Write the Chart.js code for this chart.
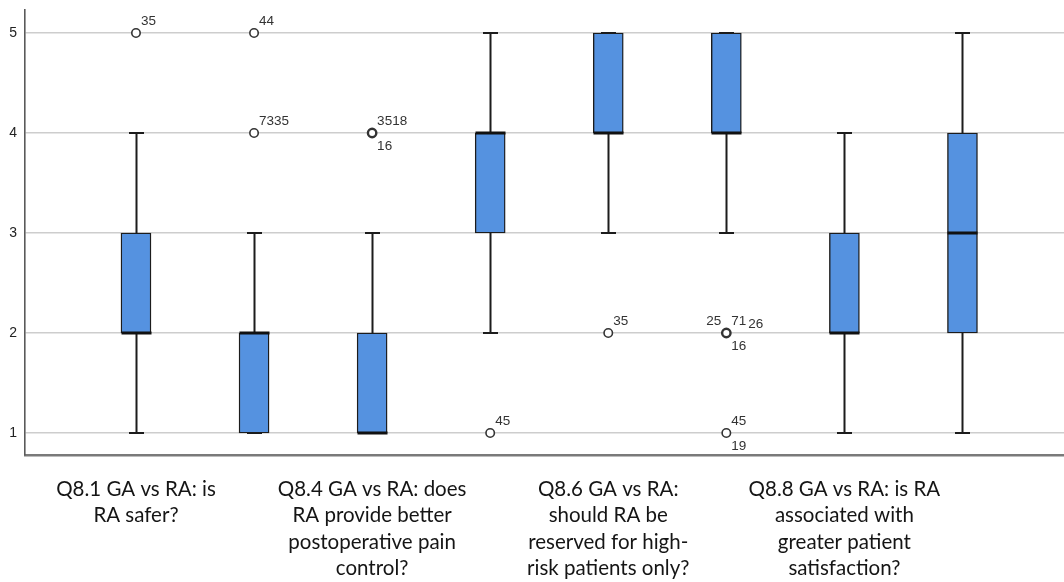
<!DOCTYPE html>
<html>
<head>
<meta charset="utf-8">
<script src="https://cdn.jsdelivr.net/npm/chart.js@4.4.1/dist/chart.umd.min.js"></script>
<style>
  html, body { margin: 0; padding: 0; background: #fff; }
  #wrap { width: 1064px; height: 582px; }
</style>
</head>
<body>
<div id="wrap"><canvas id="chart" width="1064" height="582"></canvas></div>
<script>
// Likert responses (1-5) per survey item, summarised as box plots.
const items = ["Q8.1", "Q8.2", "Q8.4", "Q8.5", "Q8.6", "Q8.7", "Q8.8", "Q8.9"];

// Category axis text (only every other item carries a label).
const tickLabels = [
  ["Q8.1 GA vs RA: is", "RA safer?"],
  [],
  ["Q8.4 GA vs RA: does", "RA provide better", "postoperative pain", "control?"],
  [],
  ["Q8.6 GA vs RA:", "should RA be", "reserved for high-", "risk patients only?"],
  [],
  ["Q8.8 GA vs RA: is RA", "associated with", "greater patient", "satisfaction?"],
  []
];

// Five-number summaries
const whiskerLow  = [1, 1, 1, 2, 3, 3, 1, 1];
const quartile1   = [2, 1, 1, 3, 4, 4, 2, 2];
const medians     = [2, 2, 1, 4, 4, 4, 2, 3];
const quartile3   = [3, 2, 2, 4, 5, 5, 3, 4];
const whiskerHigh = [4, 3, 3, 5, 5, 5, 4, 5];

// Outlying responses: item position, value and case numbers
const outlierItem   = [1, 2, 2, 3, 4, 5, 6, 6];
const outlierValue  = [5, 5, 4, 4, 1, 2, 2, 1];
const outlierCases  = [["35"], ["44"], ["73", "35"], ["35", "18", "16"], ["45"], ["35"], ["25", "71", "26", "16"], ["45", "19"]];

const yTicks = [1, 2, 3, 4, 5];

// Where each case number sits around its circle
const SLOT = {
  ur:    { dx: 5,   dy: -8 },
  next:  { dx: null, dy: -8 },   // continues right after previous label
  below: { dx: 5,   dy: 17 },
  ul:    { dx: -5,  dy: -8, align: 'right' },
  right: { dx: 22,  dy: -5 }
};
const caseSlots = [
  ['ur'], ['ur'], ['ur', 'next'], ['ur', 'next', 'below'], ['ur'], ['ur'],
  ['ul', 'ur', 'right', 'below'], ['ur', 'below']
];

const INK = '#1c1c1c';
const BOX_FILL = '#5592e0';
const CAP_HALF = 7.5;
const BOX_HALF = 15;

const boxParts = {
  id: 'boxParts',
  beforeDatasetsDraw(chart) {
    const { ctx, scales: { x, y } } = chart;
    ctx.save();
    ctx.strokeStyle = INK;
    ctx.lineWidth = 2;
    ctx.lineCap = 'butt';
    items.forEach((_, i) => {
      const px = Math.round(x.getPixelForValue(i + 1)) + 0.5;
      const lo = y.getPixelForValue(whiskerLow[i]);
      const hi = y.getPixelForValue(whiskerHigh[i]);
      ctx.beginPath();
      ctx.moveTo(px, lo); ctx.lineTo(px, hi);
      ctx.moveTo(px - CAP_HALF, lo); ctx.lineTo(px + CAP_HALF, lo);
      ctx.moveTo(px - CAP_HALF, hi); ctx.lineTo(px + CAP_HALF, hi);
      ctx.stroke();
    });
    ctx.restore();
  },
  afterDatasetsDraw(chart) {
    const { ctx, scales: { x, y } } = chart;
    ctx.save();
    // medians
    ctx.strokeStyle = '#111';
    ctx.lineWidth = 3;
    items.forEach((_, i) => {
      const px = Math.round(x.getPixelForValue(i + 1)) + 0.5;
      const py = y.getPixelForValue(medians[i]);
      ctx.beginPath();
      ctx.moveTo(px - BOX_HALF, py); ctx.lineTo(px + BOX_HALF, py);
      ctx.stroke();
    });
    // case numbers next to outliers
    ctx.font = '13.5px "Liberation Sans", Arial, sans-serif';
    ctx.fillStyle = '#333';
    ctx.textBaseline = 'alphabetic';
    outlierCases.forEach((cases, k) => {
      const px = x.getPixelForValue(outlierItem[k]);
      const py = y.getPixelForValue(outlierValue[k]);
      let lastEnd = px;
      cases.forEach((c, j) => {
        const s = SLOT[caseSlots[k][j]];
        const w = ctx.measureText(c).width;
        let tx;
        if (s.dx === null) tx = lastEnd;
        else if (s.align === 'right') tx = px + s.dx - w;
        else tx = px + s.dx;
        ctx.fillText(c, tx, py + s.dy);
        lastEnd = tx + w;
      });
    });
    ctx.restore();
  }
};

Chart.defaults.font.family = '"Liberation Sans", Arial, sans-serif';

new Chart(document.getElementById('chart'), {
  type: 'bar',
  data: {
    datasets: [
      {
        type: 'bar',
        label: 'IQR',
        data: items.map((_, i) => ({ x: i + 1, y: [quartile1[i], quartile3[i]] })),
        backgroundColor: BOX_FILL,
        borderColor: INK,
        borderWidth: 1.4,
        borderSkipped: false,
        barThickness: BOX_HALF * 2,
        order: 2
      },
      {
        type: 'scatter',
        label: 'Outliers',
        data: outlierItem.map((it, k) => ({ x: it, y: outlierValue[k] })),
        pointStyle: 'circle',
        pointRadius: 4.2,
        pointBackgroundColor: '#fff',
        pointBorderColor: '#333',
        pointBorderWidth: outlierCases.map(c => (c.length >= 3 ? 2.4 : 1.6)),
        showLine: false,
        order: 1
      }
    ]
  },
  plugins: [boxParts],
  options: {
    responsive: false,
    animation: false,
    layout: { autoPadding: false, padding: { top: 10, right: 0, left: 0, bottom: 0 } },
    plugins: {
      legend: { display: false },
      tooltip: { enabled: false },
      title: { display: false }
    },
    scales: {
      x: {
        type: 'linear',
        offset: false,
        min: 0.06,
        max: 8.86,
        afterFit(scale) { scale.height = 127; },
        grid: { display: false, drawTicks: false, offset: false },
        border: { display: true, color: '#7a7a7a', width: 2.5 },
        ticks: {
          stepSize: 1,
          includeBounds: false,
          autoSkip: false,
          maxRotation: 0,
          minRotation: 0,
          padding: 21,
          color: '#151515',
          font: { family: 'Lato, "Open Sans", sans-serif', size: 20.5, lineHeight: '26.5px' },
          callback: (v) => {
            const lines = tickLabels[v - 1];
            return lines && lines.length ? lines : '';
          }
        }
      },
      y: {
        type: 'linear',
        min: 0.78,
        max: 5.23,
        afterFit(scale) {
          scale.width = 25;
          scale.paddingTop = 0;
          scale.paddingBottom = 0;
        },
        afterBuildTicks(scale) { scale.ticks = yTicks.map(v => ({ value: v })); },
        grid: { color: '#cdcdcd', lineWidth: 1.5, drawTicks: false },
        border: { display: true, color: '#5a5a5a', width: 1.6 },
        ticks: {
          padding: 8,
          color: '#222',
          font: { size: 14 }
        }
      }
    }
  }
});
</script>
</body>
</html>
